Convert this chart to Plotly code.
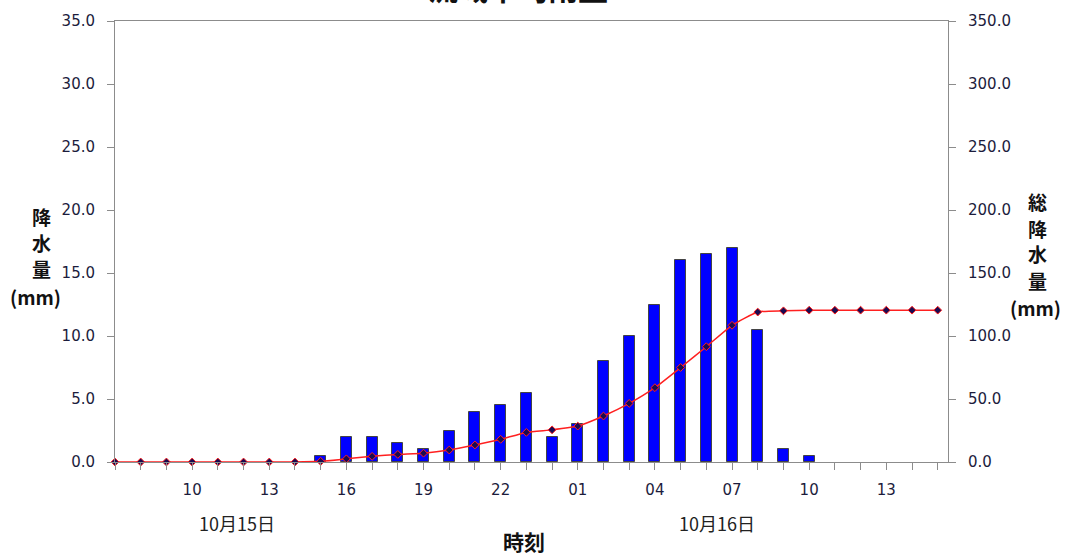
import plotly.graph_objects as go

# hourly data, 10/15 07:00 -> 10/16 15:00
hours = ['07', '08', '09', '10', '11', '12', '13', '14', '15', '16', '17', '18',
         '19', '20', '21', '22', '23', '00', '01', '02', '03', '04', '05', '06',
         '07', '08', '09', '10', '11', '12', '13', '14', '15']
rain = [0, 0, 0, 0, 0, 0, 0, 0, 0.5, 2.0, 2.0, 1.5,
        1.0, 2.5, 4.0, 4.5, 5.5, 2.0, 3.0, 8.0, 10.0, 12.5, 16.0, 16.5,
        17.0, 10.5, 1.0, 0.5, 0, 0, 0, 0, 0]
total = [0, 0, 0, 0, 0, 0, 0, 0, 0.5, 2.5, 4.5, 6.0,
         7.0, 9.5, 13.5, 18.0, 23.5, 25.5, 28.5, 36.5, 46.5, 59.0, 75.0, 91.5,
         108.5, 119.0, 120.0, 120.5, 120.5, 120.5, 120.5, 120.5, 120.5]
day_labels = ['10月15日', '10月16日']
day_pos = [4.75, 23.4]

FONT = 'Noto Sans CJK JP'
NUM_FONT = 'DejaVu Sans'
x = list(range(len(hours)))
ticktext = [h if i % 3 == 0 and i > 0 else '' for i, h in enumerate(hours)]

fig = go.Figure()
fig.add_trace(go.Bar(x=x, y=rain, width=0.43,
                     marker=dict(color='#0000FF',
                                 line=dict(color='#444444',
                                           width=[1 if r > 0 else 0 for r in rain])),
                     showlegend=False))
fig.add_trace(go.Scatter(x=x, y=total, yaxis='y2', mode='lines+markers', cliponaxis=False,
                         line=dict(color='#FF2020', width=1.5, shape='spline', smoothing=0.5),
                         marker=dict(symbol='diamond', size=6, color='#1a0a50',
                                     line=dict(color='#FF2020', width=1)),
                         showlegend=False))

axis_common = dict(showline=True, linecolor='#8c8c8c', linewidth=1, showgrid=False,
                   zeroline=False, ticks='outside', ticklen=7, tickcolor='#8c8c8c',
                   tickfont=dict(family=NUM_FONT, size=15, color='#1c1c3c'))

fig.update_layout(
    width=1067, height=555,
    margin=dict(l=115, r=119, t=19, b=93),
    plot_bgcolor='white', paper_bgcolor='white',
    bargap=0,
    xaxis=dict(range=[0, 32.4], tickmode='array', tickvals=x, ticktext=ticktext,
               mirror=True, ticklabelstandoff=7, **axis_common),
    yaxis=dict(range=[0, 35], dtick=5, tickformat='.1f', ticklabelstandoff=9, **axis_common),
    yaxis2=dict(range=[0, 350], dtick=50, tickformat='.1f', overlaying='y', side='right',
                ticklabelstandoff=9, **axis_common),
)


def px_to_paper(py):
    # pixel row -> paper y (plot area 19..462)
    return (462 - py) / 443


def px_to_paper_x(px):
    return (px - 115) / 833


ann = []
for lab, pos in zip(day_labels, day_pos):
    ann.append(dict(x=pos, y=px_to_paper(523), xref='x', yref='paper', text=lab,
                    showarrow=False, font=dict(family=FONT, size=18, color='#222222'),
                    yanchor='middle'))
ann.append(dict(x=px_to_paper_x(524), y=px_to_paper(541), xref='paper', yref='paper',
                text='<b>時刻</b>', showarrow=False, yanchor='middle',
                font=dict(family=FONT, size=21, color='#111111')))
# axis titles, one glyph per line
side_titles = [('降', 41, 215), ('水', 41, 242), ('量', 41, 268), ('(mm)', 35, 296),
               ('総', 1037, 200), ('降', 1037, 227), ('水', 1037, 253),
               ('量', 1037, 280), ('(mm)', 1035, 307)]
for txt, px, py in side_titles:
    ann.append(dict(x=px_to_paper_x(px), y=px_to_paper(py), xref='paper', yref='paper',
                    text='<b>%s</b>' % txt, showarrow=False, xanchor='center',
                    yanchor='middle', font=dict(family=FONT, size=19, color='#111111')))
ann.append(dict(x=px_to_paper_x(518), y=px_to_paper(9), xref='paper', yref='paper',
                text='<b>流域平均雨量</b>', showarrow=False, yanchor='bottom',
                xanchor='center', font=dict(family=FONT, size=30, color='#111111')))
fig.update_layout(annotations=ann)

fig.write_html("out.html", config={'displayModeBar': False},
               post_script="document.body.style.margin='0';document.body.style.overflow='hidden';")
